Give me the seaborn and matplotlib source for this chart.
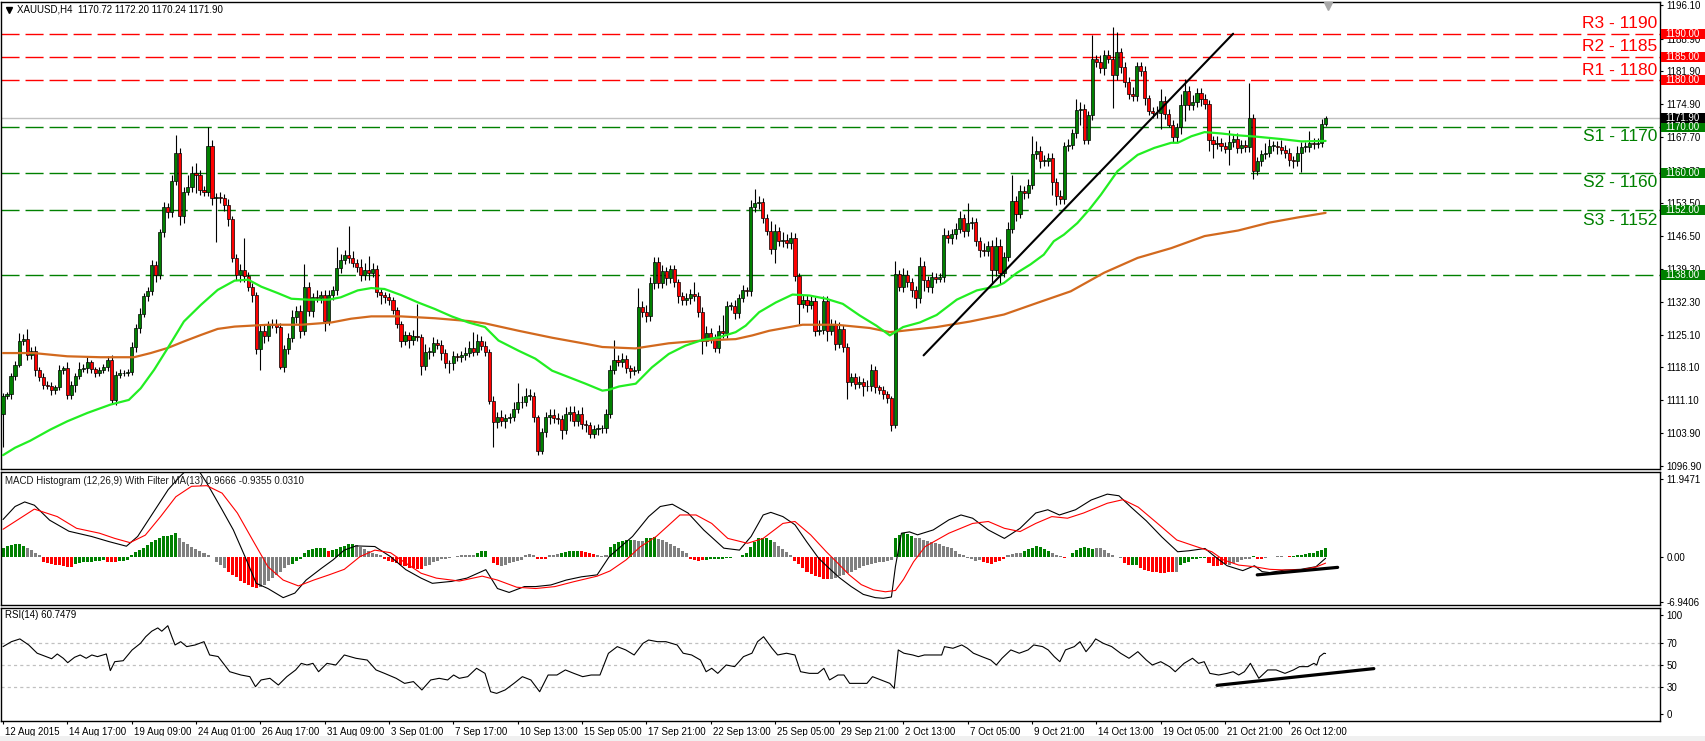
import numpy as np
import matplotlib
matplotlib.use("Agg")
import matplotlib.pyplot as plt
import matplotlib.transforms as mtransforms
from matplotlib.patches import Rectangle
import seaborn as sns

sns.set_style("white")
plt.rcParams["font.family"] = ["Liberation Sans", "DejaVu Sans"]

# ---------------- data ----------------
open_first = 1108.0
close = [
    1112.0, 1112.3, 1116.2, 1118.7, 1123.8, 1124.2, 1120.8, 1121.6, 1117.6, 1116.0,
    1114.4, 1114.1, 1113.3, 1113.8, 1117.6, 1117.9, 1112.2, 1114.4, 1116.3, 1117.7,
    1117.9, 1119.2, 1117.7, 1117.0, 1117.5, 1118.2, 1119.8, 1111.1, 1116.5, 1117.0,
    1116.8, 1117.2, 1122.6, 1126.6, 1129.6, 1133.4, 1134.5, 1140.2, 1138.0, 1147.2,
    1152.6, 1151.6, 1158.3, 1164.4, 1150.8, 1156.0, 1157.0, 1160.0, 1159.6, 1156.4,
    1156.0, 1165.7, 1154.6, 1154.7, 1154.6, 1153.0, 1150.1, 1141.6, 1138.0, 1139.0,
    1137.7, 1135.5, 1133.7, 1122.1, 1126.0, 1124.8, 1127.3, 1127.5, 1126.8, 1118.3,
    1122.0, 1124.4, 1129.0, 1130.3, 1126.0, 1135.5, 1130.2, 1133.2, 1133.0, 1133.7,
    1128.0, 1133.6, 1134.7, 1139.5, 1141.3, 1142.4, 1141.7, 1140.6, 1139.7, 1138.0,
    1139.2, 1138.5, 1139.3, 1134.3, 1133.7, 1133.2, 1132.6, 1130.4, 1127.5, 1123.9,
    1125.0, 1124.0, 1124.8, 1124.6, 1118.5, 1121.5, 1121.5, 1123.4, 1123.0, 1121.2,
    1119.0, 1119.0, 1120.5, 1120.4, 1120.7, 1121.2, 1122.2, 1121.5, 1123.7, 1122.8,
    1121.5, 1110.8, 1106.3, 1107.4, 1106.5, 1107.1, 1107.4, 1109.2, 1110.6, 1110.6,
    1112.0, 1112.0, 1107.4, 1100.2, 1104.1, 1107.4, 1107.9, 1107.3, 1107.0, 1104.7,
    1108.0, 1108.5, 1106.5, 1108.0, 1106.0, 1105.7, 1103.8, 1104.9, 1105.1, 1105.0,
    1108.1, 1117.6, 1119.7, 1119.3, 1120.0, 1118.0, 1117.4, 1117.6, 1131.2, 1130.0,
    1129.2, 1136.3, 1140.9, 1136.2, 1138.8, 1137.3, 1139.3, 1136.5, 1133.4, 1132.6,
    1133.0, 1134.0, 1133.4, 1130.0, 1123.7, 1125.5, 1124.5, 1122.3, 1125.9, 1125.5,
    1131.4, 1131.4, 1129.8, 1133.0, 1134.7, 1134.5, 1152.6, 1153.5, 1153.7, 1150.3,
    1147.6, 1143.6, 1147.4, 1145.3, 1145.6, 1144.9, 1146.0, 1137.7, 1131.8, 1132.6,
    1131.6, 1132.5, 1126.0, 1126.2, 1132.5, 1126.0, 1127.3, 1123.2, 1126.4, 1122.6,
    1115.0, 1116.0, 1114.6, 1115.0, 1114.0, 1114.0, 1117.6, 1113.8, 1113.3, 1112.4,
    1111.5, 1105.8, 1138.2, 1135.5, 1138.0, 1136.5, 1134.7, 1133.0, 1140.0, 1137.0,
    1135.4, 1137.5, 1137.2, 1137.6, 1146.7, 1146.0, 1146.8, 1148.0, 1150.2, 1147.4,
    1149.2, 1149.4, 1145.3, 1143.5, 1143.2, 1144.3, 1139.0, 1144.3, 1138.5, 1142.0,
    1148.0, 1154.0, 1151.2, 1156.2, 1155.6, 1157.5, 1164.0, 1164.8, 1162.6, 1162.6,
    1163.3, 1158.0, 1155.1, 1154.4, 1165.7, 1166.1, 1168.5, 1173.5, 1173.8, 1167.2,
    1172.4, 1184.5, 1183.9, 1182.6, 1185.5, 1184.6, 1181.0, 1186.0, 1182.8, 1179.6,
    1177.0, 1176.6, 1183.0, 1181.9, 1176.1, 1173.4, 1172.9, 1173.0, 1175.6, 1172.6,
    1170.4, 1167.7, 1169.8, 1174.6, 1177.7, 1174.6, 1175.3, 1177.2, 1176.0, 1174.8,
    1167.0, 1166.2, 1166.5, 1165.7, 1165.2, 1166.6, 1167.3, 1165.4, 1166.0, 1165.5,
    1171.8, 1160.5, 1162.5, 1164.0, 1164.4, 1165.8, 1165.9, 1165.6, 1165.0, 1164.3,
    1162.7, 1162.5, 1164.3, 1165.6, 1165.6, 1166.5, 1166.3, 1166.5, 1170.6, 1171.9,
]
wick_up = [
    0.5, 0.6, 0.8, 0.7, 1.7, 1.0, 2.2, 0.9, 1.2, 0.6,
    0.8, 0.7, 0.9, 0.5, 1.0, 0.6, 1.4, 0.8, 0.7, 1.6,
    0.9, 1.3, 0.6, 0.5, 0.8, 0.6, 0.7, 0.9, 0.9, 0.7,
    0.6, 0.5, 1.0, 0.8, 1.2, 0.7, 1.0, 1.1, 0.9, 0.8,
    1.1, 0.9, 1.2, 3.8, 0.9, 1.0, 2.5, 1.4, 2.2, 1.0,
    0.8, 4.1, 1.5, 1.0, 1.2, 0.8, 1.3, 0.6, 0.9, 1.4,
    7.0, 1.0, 0.8, 0.7, 1.2, 1.5, 0.9, 1.1, 1.0, 0.8,
    0.9, 1.2, 1.5, 1.0, 1.2, 4.9, 1.0, 1.0, 1.5, 0.8,
    1.0, 1.2, 1.0, 4.5, 1.3, 1.0, 6.1, 1.4, 0.8, 1.8,
    1.5, 2.9, 1.2, 0.9, 0.8, 0.7, 1.0, 0.6, 0.8, 0.6,
    1.0, 0.8, 1.3, 7.0, 0.8, 1.6, 1.0, 1.3, 0.9, 1.0,
    0.8, 0.7, 1.2, 0.8, 1.0, 1.3, 1.6, 3.5, 1.5, 1.2,
    0.9, 0.6, 1.2, 1.0, 1.5, 1.0, 0.9, 1.4, 4.2, 1.3,
    1.6, 1.4, 0.8, 0.5, 0.9, 1.0, 1.3, 1.2, 1.0, 0.9,
    1.5, 1.3, 1.4, 1.0, 1.6, 0.8, 0.6, 0.9, 0.8, 0.6,
    1.0, 1.0, 4.3, 1.0, 1.2, 0.8, 0.6, 0.9, 4.0, 1.2,
    1.5, 1.3, 1.0, 0.9, 1.3, 1.0, 0.9, 0.8, 0.7, 1.0,
    1.1, 1.0, 2.5, 0.9, 1.2, 1.5, 1.0, 0.8, 1.3, 3.4,
    1.0, 0.9, 1.2, 1.0, 1.1, 0.8, 1.5, 3.1, 1.4, 0.8,
    0.9, 2.0, 1.5, 1.0, 1.6, 1.2, 1.3, 1.0, 0.8, 1.2,
    1.0, 1.2, 0.8, 2.2, 0.9, 1.0, 1.3, 1.0, 1.4, 0.8,
    0.7, 1.0, 0.9, 1.2, 0.8, 1.3, 1.3, 0.8, 0.6, 0.7,
    0.6, 0.5, 2.9, 1.0, 1.5, 1.0, 0.8, 1.0, 2.0, 1.0,
    0.8, 1.2, 1.0, 0.9, 1.5, 1.0, 1.1, 1.3, 1.5, 1.0,
    4.3, 1.2, 1.0, 0.8, 1.5, 1.0, 1.2, 1.8, 1.4, 1.0,
    1.5, 5.5, 1.0, 1.2, 1.0, 1.3, 3.9, 2.0, 1.0, 1.2,
    1.0, 1.0, 1.0, 1.3, 1.0, 1.2, 1.0, 2.5, 1.5, 1.0,
    1.0, 5.3, 1.0, 1.5, 1.0, 1.0, 6.8, 4.3, 1.0, 1.2,
    1.0, 1.5, 1.0, 1.0, 1.2, 0.8, 0.9, 1.5, 2.4, 1.0,
    1.2, 1.0, 1.0, 2.5, 2.5, 1.0, 1.5, 1.2, 1.0, 1.0,
    1.0, 1.0, 1.5, 1.0, 1.0, 2.6, 1.0, 1.2, 1.0, 1.0,
    7.6, 1.0, 1.0, 1.0, 2.0, 1.5, 1.0, 1.0, 1.5, 1.0,
    1.0, 1.0, 1.5, 1.0, 1.0, 2.5, 1.0, 1.0, 1.0, 0.3,
]
wick_dn = [
    7.0, 0.8, 1.0, 0.7, 0.6, 0.8, 1.0, 0.9, 1.3, 0.8,
    1.0, 0.7, 1.2, 0.9, 0.6, 1.0, 1.0, 0.8, 1.5, 0.7,
    0.6, 0.9, 0.8, 1.0, 0.7, 0.6, 0.9, 0.8, 1.0, 0.7,
    0.6, 0.5, 0.8, 1.2, 1.0, 0.7, 1.0, 0.9, 1.5, 0.8,
    0.9, 1.4, 1.0, 0.8, 2.0, 1.5, 0.8, 1.0, 4.0, 1.2,
    1.0, 0.9, 1.5, 9.5, 1.0, 1.2, 1.5, 0.8, 1.0, 1.6,
    1.2, 1.0, 1.4, 1.0, 4.5, 1.5, 1.0, 0.8, 1.2, 0.5,
    1.2, 1.0, 0.8, 1.3, 1.5, 1.0, 1.0, 1.2, 0.9, 1.0,
    2.0, 0.8, 1.0, 0.9, 1.1, 1.0, 1.2, 0.9, 1.0, 1.3,
    1.0, 1.5, 0.9, 1.0, 2.0, 1.2, 1.0, 0.8, 1.0, 1.5,
    1.0, 1.8, 1.0, 0.8, 2.1, 1.0, 1.5, 1.0, 0.9, 1.4,
    1.0, 2.0, 1.5, 1.0, 1.2, 1.0, 0.9, 1.0, 0.8, 1.0,
    1.0, 0.5, 5.3, 1.2, 1.0, 1.5, 1.0, 0.8, 1.0, 1.2,
    0.8, 1.0, 1.0, 1.0, 0.8, 1.0, 1.5, 1.2, 1.0, 2.0,
    1.0, 1.5, 1.0, 1.0, 1.2, 1.5, 0.9, 1.0, 1.3, 1.0,
    1.0, 0.8, 1.0, 0.9, 1.2, 1.0, 1.5, 1.0, 0.8, 1.0,
    1.3, 1.0, 1.2, 1.0, 0.9, 1.5, 1.0, 1.0, 1.5, 1.0,
    1.0, 1.2, 1.0, 1.0, 2.7, 1.0, 1.2, 0.9, 1.0, 1.0,
    1.1, 1.0, 1.3, 1.0, 0.8, 1.0, 1.0, 1.0, 1.2, 1.0,
    1.0, 1.0, 3.1, 1.0, 1.2, 1.0, 1.2, 1.0, 4.3, 1.0,
    1.5, 1.0, 1.2, 1.0, 1.0, 2.1, 1.0, 1.3, 1.0, 1.2,
    3.7, 1.0, 1.2, 1.0, 2.0, 1.0, 1.0, 1.2, 1.0, 1.0,
    1.0, 1.3, 0.8, 1.0, 1.2, 1.0, 1.5, 2.0, 1.0, 2.5,
    1.0, 1.2, 1.0, 0.8, 1.0, 1.0, 1.3, 1.0, 1.0, 1.2,
    1.0, 1.2, 1.0, 1.5, 1.0, 1.0, 3.0, 1.2, 2.5, 1.0,
    1.0, 1.0, 1.5, 1.0, 1.2, 1.0, 1.0, 1.0, 1.5, 1.0,
    1.0, 2.8, 1.9, 1.0, 1.0, 1.0, 1.0, 1.0, 3.2, 1.0,
    1.0, 1.0, 1.0, 1.0, 1.5, 1.0, 7.0, 1.0, 1.2, 1.0,
    1.0, 1.0, 1.0, 1.0, 1.5, 1.0, 1.0, 1.0, 3.6, 1.0,
    0.5, 1.0, 1.0, 1.5, 3.5, 1.0, 1.0, 1.0, 1.5, 1.0,
    2.2, 3.0, 1.0, 1.0, 1.0, 3.5, 1.0, 1.0, 1.0, 1.0,
    1.0, 1.8, 1.0, 1.0, 1.0, 1.0, 1.0, 1.5, 1.0, 1.0,
    1.2, 1.5, 1.0, 4.0, 1.0, 1.0, 1.2, 1.0, 1.0, 0.4,
]

ma_fast_idx = [0, 3, 6.75, 11.75, 16, 21, 26.75, 31.3, 34.25, 37.6, 41, 45, 49.25, 53.4,
               57.6, 61, 64.25, 68.4, 71.75, 76, 81, 84, 88.25, 91.6, 94.9, 99, 103.25,
               107.4, 111.6, 115.75, 119.9, 123.25, 128.25, 132.4, 136.6, 140.75, 144.9,
               149.1, 150.75, 153.25, 157.4, 161.4, 165.6, 169.75, 173.9, 178.1, 182.25,
               184.75, 188.1, 192.25, 196.4, 200.6, 204.75, 208.9, 213.1, 217.25, 220.6,
               223.9, 228.1, 232.25, 237.25, 242.25, 247.25, 249, 252.25, 255.6, 258.9,
               261.4, 263.9, 267.25, 270.2, 273.1, 277.25, 282.25, 286.4, 290.6, 292.25,
               295.6, 298.9, 303.1, 307.25, 312, 318, 323, 329]
ma_fast = [1099.2, 1100.8, 1102.3, 1104.7, 1106.5, 1108.3, 1110.1, 1111.1, 1113.6, 1117.6,
           1122.3, 1128.0, 1131.6, 1134.8, 1136.8, 1137.0, 1135.5, 1134.1, 1132.9, 1132.7,
           1132.7, 1133.2, 1134.7, 1135.2, 1135.0, 1133.7, 1132.1, 1130.7, 1129.1, 1127.8,
           1126.8, 1123.9, 1121.7, 1120.0, 1117.4, 1116.0, 1114.6, 1113.1, 1113.3, 1114.0,
           1114.6, 1118.1, 1121.0, 1122.8, 1124.0, 1124.6, 1125.7, 1127.1, 1130.0, 1132.1,
           1133.8, 1133.6, 1132.9, 1131.8, 1129.3, 1127.1, 1125.0, 1126.8, 1127.8, 1129.4,
           1132.7, 1134.7, 1135.6, 1136.3, 1138.5, 1140.3, 1142.4, 1145.3, 1146.7, 1149.2,
           1152.1, 1155.3, 1160.4, 1163.9, 1165.4, 1166.5, 1166.5, 1167.9, 1168.8, 1168.5,
           1168.1, 1167.8, 1167.3, 1166.8, 1166.9]
ma_slow_idx = [0, 7.6, 16, 24.25, 32.6, 36.75, 41, 45, 49.25, 53.4, 57.6, 65.9, 74.25,
               81.75, 86.6, 91.6, 99, 107.4, 115.75, 119.9, 128.25, 136.6, 144.9, 149.1,
               157.3, 165.6, 173.9, 182.25, 186.4, 190.6, 198.9, 207.25, 215.6, 220.6,
               223.9, 232.25, 240.6, 249, 257.25, 265.6, 273.9, 282.25, 290.6, 298.9,
               307.25, 315, 322, 329]
ma_slow = [1121.2, 1121.2, 1120.5, 1120.3, 1120.3, 1121.2, 1122.3, 1123.7, 1125.1, 1126.4,
           1126.9, 1127.3, 1127.3, 1127.8, 1128.6, 1129.1, 1129.1, 1128.7, 1128.1, 1127.6,
           1126.0, 1124.5, 1123.2, 1122.5, 1122.2, 1123.3, 1123.9, 1124.2, 1125.0, 1126.0,
           1127.3, 1127.3, 1126.6, 1125.7, 1126.0, 1126.8, 1128.0, 1129.5, 1132.0, 1134.5,
           1138.5, 1141.7, 1143.8, 1146.4, 1147.6, 1149.3, 1150.4, 1151.4]

trend_idx = [229, 306]
trend_price = [1120.7, 1190.0]

res_levels = [1190, 1185, 1180]
res_names = ["R3 - 1190", "R2 - 1185", "R1 - 1180"]
sup_levels = [1170, 1160, 1152, 1138]
sup_names = ["S1 - 1170", "S2 - 1160", "S3 - 1152"]
last_price = 1171.90
price_ticks = [1196.10, 1188.90, 1181.90, 1174.90, 1167.70, 1160.50, 1153.50, 1146.50,
               1139.30, 1132.30, 1125.10, 1118.10, 1111.10, 1103.90, 1096.90]
price_title = "XAUUSD,H4  1170.72 1172.20 1170.24 1171.90"

macd_idx = [0, 3, 5.4, 7.8, 11.6, 16.4, 22, 26.4, 30.7, 33.5, 37.3, 41.1, 44, 46, 48.5,
            50.7, 54.5, 57.3, 60.2, 63, 65.9, 69.7, 72.6, 75.4, 79.2, 82.1, 84.9, 87.8,
            92.5, 96.4, 100.2, 104, 106.8, 111.6, 115.4, 120.1, 123, 125.9, 129.7, 132.5,
            136.3, 140.1, 143.9, 147.8, 150.8, 156.6, 160.6, 163.5, 166.5, 170.4, 174.3,
            179.3, 183.2, 186.1, 189.1, 191, 194, 197, 199.9, 202.9, 205, 208, 211, 214,
            217, 219, 221, 222, 223.5, 225.5, 227.5, 231.4, 235.3, 238.3, 241.2, 245.1,
            249.1, 253, 256.9, 259.9, 262.8, 266.8, 270.7, 274.7, 277.6, 280.6, 284.4,
            288.3, 292.2, 295, 299, 301.7, 304.5, 308.4, 311.3, 313.2, 315.1, 318.9,
            322.8, 326.6, 329]
macd_line = [5.7, 7.7, 8.4, 7.9, 5.6, 3.9, 3.1, 2.3, 1.6, 3.1, 6.7, 10.3, 12.3, 13.5, 13.4,
             11.3, 7.2, 4.1, 0.0, -4.1, -4.9, -6.3, -5.6, -3.6, -1.8, -0.5, 1.0, 1.65,
             1.55, 0.0, -2.0, -3.3, -4.1, -3.8, -3.3, -2.0, -4.9, -5.5, -4.6, -4.6,
             -4.35, -3.6, -3.1, -2.8, 0.0, 3.1, 6.15, 7.7, 8.05, 6.7, 4.1,
             1.3, 1.0, 3.1, 6.4, 6.8, 6.15, 4.9, 2.3, -0.25, -1.5, -3.2, -4.6, -5.8,
             -6.3, -6.4, -6.2, -1.5, 3.6, 3.8, 3.35, 4.1, 5.65, 6.4, 5.9, 4.1,
             2.8, 4.35, 6.7, 7.2, 6.4, 7.2, 8.7, 9.6, 9.35, 7.6, 5.5,
             3.0, 0.75, 0.9, 1.25, -0.1, -1.4, -2.15, -1.4, -2.3, -2.45, -2.05,
             -1.95, -1.55, -0.25]
signal_idx = [0, 7.8, 13.5, 18.3, 24, 27.8, 31.6, 35.4, 39.2, 43, 46.9, 50.7, 54.5, 58.3,
              62.1, 65.9, 69.7, 73.5, 77.3, 81.1, 84.9, 88.8, 92.5, 96.4, 100.2, 104,
              107.8, 113.5, 119.2, 123, 127.8, 132.5, 137.3, 142, 147.8, 151, 155, 158.5,
              162.5, 168.4, 172.4, 176.3, 180.3, 185.2, 189.1, 194, 197, 200.9, 204.8,
              207.5, 210.5, 213.5, 216.5, 219.5, 222, 224, 226.5, 229.4, 235.3, 241.2,
              245.1, 249.1, 253, 256.9, 260.9, 264.8, 268.8, 274.7, 278.6, 282.4, 287.2,
              292, 296.8, 300.7, 303.6, 307.4, 311.3, 315.1, 318.9, 322.8, 326.6, 329]
signal_line = [4.2, 7.3, 6.15, 4.35, 3.6, 2.8, 2.15, 3.3, 6.15, 9.2, 10.8, 10.9, 9.75, 6.7,
               2.55, -1.55, -3.6, -4.5, -3.6, -2.8, -1.95, 0.0, 1.0, 0.6, -1.0, -2.55,
               -3.3, -3.75, -3.0, -3.6, -4.7, -4.9, -4.6, -3.85, -3.0, -2.2, -0.5, 1.5,
               3.1, 6.4, 6.4, 5.1, 2.8, 2.05, 2.8, 5.1, 5.4, 3.35, 0.75,
               -0.9, -2.8, -4.3, -5.1, -5.4, -5.2, -3.5, -0.8, 1.55, 3.6, 5.1,
               5.4, 4.35, 3.85, 5.1, 6.15, 5.9, 6.7, 8.2, 8.75, 7.6, 5.1,
               2.55, 1.55, 0.75, -0.5, -1.3, -1.55, -1.95, -2.05, -2.05, -1.6, -1.0]
macd_hist = [
    1.4, 1.6, 1.8, 2.0, 2.0, 1.6,
    1.4, 1.0, 0.6, 0.2,
    -0.8, -1.0, -1.2, -1.3, -1.3, -1.45, -1.55, -1.55,
    -1.1, -1.0, -0.9, -0.8, -0.8, -0.7, -0.6, -0.5,
    -0.9, -0.9, -0.8,
    -0.7, -0.6, -0.5,
    0.3, 0.7, 1.0, 1.4, 1.8, 2.3, 2.5, 2.8, 3.1, 3.1, 3.3, 3.7,
    2.8, 2.3, 1.9, 1.5, 1.2, 0.9, 0.5, 0.2, -0.1, -0.8, -1.3, -1.8,
    -2.3, -2.8, -3.2, -3.7, -4.1, -4.4, -4.6, -4.8,
    -4.6, -4.4, -3.8, -3.3, -2.8, -2.3, -1.8, -1.3,
    -1.1, -0.6, -0.3, 0.6, 1.0, 1.2, 1.3, 1.3, 1.3,
    0.9,
    1.0, 1.2, 1.5, 1.7, 1.9, 2.0,
    1.8, 1.5, 1.1, 0.8, 0.6, 0.4, 0.2,
    -0.4, -0.6, -0.8, -1.0, -1.3, -1.5, -1.7, -1.8, -1.9, -1.9,
    -1.5, -1.3, -0.9, -0.6, -0.4, -0.3, -0.2, -0.1, 0.1, 0.2, 0.2, 0.3, 0.3,
    0.5, 0.8, 0.8,
    -0.1, -1.0, -1.3,
    -1.4, -1.3, -1.0, -0.8, -0.6, -0.5, 0.2, 0.4, 0.3,
    -0.3, -0.4, -0.3,
    0.2, 0.3, 0.4,
    0.6, 0.7, 0.8, 0.9, 0.9,
    0.8, 0.7, 0.6, 0.4,
    0.2, 0.1, 0.3,
    1.5, 1.9, 2.2, 2.4, 2.5, 2.6,
    2.5, 2.4, 2.4,
    2.8, 2.9, 3.0,
    2.7, 2.5, 2.2, 1.9, 1.6, 1.3, 0.9, 0.6,
    -0.3, -0.5, -0.6, -0.5,
    -0.5, -0.4, -0.4, -0.3, -0.3, -0.2, -0.2, -0.1, -0.1, 0.2, 0.5,
    1.5, 2.3, 2.8, 2.9, 2.8, 2.6,
    2.2, 1.6, 1.1, 0.7, 0.3,
    -0.6, -1.2, -1.8, -2.3, -2.7, -3.0, -3.2, -3.4, -3.5,
    -3.4, -3.3, -3.0, -2.8, -2.5, -2.3, -2.0, -1.8, -1.5, -1.3, -1.2, -1.0, -0.9, -0.8, -0.6, -0.5,
    2.8, 3.3, 3.6, 3.5, 3.2,
    2.9, 2.8, 2.6, 2.4, 2.3, 2.1, 1.9, 1.7, 1.5, 1.3, 0.8, 0.4, 0.2, -0.2, -0.4, -0.6, -0.5,
    -0.8, -1.0, -1.1, -0.9, -0.6, -0.3,
    0.2, 0.4, 0.5, 0.6,
    0.9, 1.2, 1.4, 1.6, 1.5, 1.2, 0.9,
    0.6, 0.3, 0.1,
    -0.2, -0.1,
    0.6, 1.0, 1.3, 1.5, 1.4, 1.2,
    1.4, 1.3, 1.0, 0.6, 0.3, -0.1, -0.2,
    -1.0, -1.3,
    -1.3, -1.3,
    -1.8, -2.0, -2.2, -2.3, -2.4, -2.5, -2.5, -2.4, -2.3,
    -2.3,
    -1.3, -1.0, -0.8, -0.3, -0.3, -0.2, -0.2,
    -1.0, -1.5, -1.5, -1.3, -1.2,
    -1.3, -1.0, -0.8, -0.5, -0.4, -0.3,
    0.1,
    -0.4, -0.4,
    -0.2, -0.1, -0.1, 0.1, 0.1,
    -0.1, 0.1,
    0.1, 0.2, 0.3, 0.4, 0.5, 0.6, 0.8, 1.0, 1.3,
]
hist_colors = ("gggggg" "kkkk" "rrrrrrrr" "gggggggg" "rrr" "ggg" "gggggggggggg"
               "kkkkkkkkkkkk" "rrrrrrrr" "kkkkkkkk" "ggggggggg" "r" "gggggg" "kkkkkkk"
               "rrrrrrrrrr" "kkkkkkkkkkkkk" "ggg" "rrr" "kkkkkkkkk" "rrr" "kkk" "ggggg"
               "rrrr" "kkk" "gggggg" "kkk" "ggg" "kkkkkkkk" "rrrr" "ggggggggggg" "gggggg"
               "kkkkk" "rrrrrrrrr" "kkkkkkkkkkkkkkkk" "ggggg" "kkkkkkkkkkkkkkkkk" "rrrrrr"
               "kkkk" "ggggggg" "kkk" "rr" "gggggg" "kkkkkkk" "rr" "gg" "rrrrrrrrr" "k"
               "ggggggg" "rrrrr" "kkkkkk" "g" "rr" "kkkkk" "rr" "ggggggggg")
macd_trend_idx = [312, 332]
macd_trend = [-2.8, -1.65]
macd_ticks = [11.9471, 0.0, -6.9406]
macd_tick_labels = ["11.9471", "0.00", "-6.9406"]
macd_title = "MACD Histogram (12,26,9) With Filter MA(13) 0.9666 -0.9355 0.0310"

rsi_idx = [0, 2.1, 4.2, 6.4, 8.5, 10.7, 12.1, 13.5, 15, 16.1,
           17.8, 19.2, 20.7, 22.1, 23.5, 25.7, 26.7, 27.8, 29.9, 32.1,
           34.2, 35.5, 37, 38.5, 39.5, 41, 42, 42.8, 44.2, 45.7,
           47.8, 50, 51.4, 53.5, 56.4, 59.2, 61.4, 62.8, 64.2, 66.4,
           68.5, 70.6, 72.8, 74.2, 75.6, 77.1, 78.5, 80.6, 82.8, 84.9,
           87.8, 90.6, 92.8, 94.9, 97.8, 99.9, 102.1, 104.2, 106.4, 108.5,
           110.6, 112.1, 113.5, 115.6, 117.8, 119.9, 121.3, 122.8, 124.9, 127.1,
           129.2, 131.3, 133.5, 135.6, 137.8, 139.9, 142, 144.2, 146.3, 148.5,
           150.6, 152.8, 154.9, 157, 159.2, 160.6, 162.8, 164.9, 167.7, 169.2,
           171.3, 173.5, 174.9, 176.3, 177.8, 179.9, 182, 184.2, 186.3, 187.7,
           189.2, 191.3, 192.7, 194.9, 197, 198.4, 200.6, 202.7, 204.2, 205.6,
           207.7, 209.2, 210.6, 212.7, 214.9, 216.3, 218.4, 220.6, 221.7, 222.7,
           224.1, 226.3, 227.7, 229.2, 231.3, 233.5, 234.2, 236.3, 238.5, 239.9,
           241.4, 243.5, 245.7, 247.1, 248.5, 250.7, 252.8, 255, 256.4, 258.6,
           260, 261.5, 262.9, 264.3, 266.5, 267.9, 269.4, 270.8, 271.8, 273.7,
           275.8, 278, 280.1, 282.3, 284.4, 285.9, 288, 290.2, 291.6, 293.8,
           295.9, 297.4, 298.8, 300.2, 302.4, 304.5, 306, 307.4, 308.8, 310.3,
           311.7, 312.4, 314.6, 316.7, 318.9, 321, 322.5, 324.6, 326.1, 326.8,
           327.5, 328.6, 329]
rsi_val = [67, 71.5, 74, 68.5, 61, 58, 56, 60.3, 56.4, 52.4,
           57.3, 59.4, 56.4, 59.4, 57.9, 60.3, 45.2, 53.3, 54.2, 63.9,
           70, 76, 81, 84, 81, 86, 76, 68.5, 71.5, 67,
           68.5, 71.5, 59.4, 58, 44.2, 41.2, 39.7, 30.6, 36.7, 38.2,
           32.1, 39.7, 45.8, 51.8, 50.3, 51.8, 44.2, 51.8, 50.3, 59.4,
           56.4, 54.8, 45.8, 42.7, 38.2, 33.6, 35.2, 27.6, 36.7, 38.2,
           36.7, 41.2, 38.2, 39.7, 47.3, 42.7, 26, 24.5, 27.6, 33.6,
           39.7, 36.7, 26, 41.2, 41.2, 45.8, 42.7, 39.7, 41.2, 41.2,
           60.9, 67, 64, 59.4, 70, 73, 71.5, 71.5, 68.5, 61,
           59.4, 54.8, 44.2, 47.3, 42.7, 50.3, 48.8, 57.9, 61, 71.5,
           76, 65.5, 59.4, 61, 59.4, 44.2, 42.7, 42.7, 47.3, 36.7,
           41.2, 41.2, 33.6, 33.6, 33.6, 39.7, 36.7, 33.6, 29, 64,
           61, 59.4, 57.9, 59.4, 59.4, 59.4, 67, 65.5, 68.5, 65.5,
           61, 57.9, 54.8, 50.3, 56.4, 64, 61, 64, 68.5, 67,
           64, 57.9, 53.3, 64, 67, 71.5, 62.4, 68.5, 74, 70,
           67, 61, 56.4, 62.4, 54.8, 50.3, 53.3, 48.8, 44.2, 51.8,
           56.4, 51.8, 53.3, 42.7, 41.2, 42.7, 44.2, 41.2, 44.2, 51.8,
           42.7, 38.2, 45.8, 45.8, 42.7, 45.8, 48.8, 48.8, 51.8, 50.3,
           57.9, 61, 60.7]
rsi_levels = [70, 50, 30]
rsi_trend_idx = [302, 341]
rsi_trend = [31.8, 47.0]
rsi_ticks = [95.7, 70, 50, 30, 5.7]
rsi_tick_labels = ["100", "70", "50", "30", "0"]
rsi_title = "RSI(14) 60.7479"

date_idx = [0, 16, 32, 48, 64, 80, 96, 112, 128, 144, 160, 176, 192, 208, 224, 240,
            256, 272, 288, 304, 320]
date_labels = ["12 Aug 2015", "14 Aug 17:00", "19 Aug 09:00", "24 Aug 01:00", "26 Aug 17:00",
               "31 Aug 09:00", "3 Sep 01:00", "7 Sep 17:00", "10 Sep 13:00", "15 Sep 05:00",
               "17 Sep 21:00", "22 Sep 13:00", "25 Sep 05:00", "29 Sep 21:00", "2 Oct 13:00",
               "7 Oct 05:00", "9 Oct 21:00", "14 Oct 13:00", "19 Oct 05:00", "21 Oct 21:00",
               "26 Oct 12:00"]

assert len(close) == len(wick_up) == len(wick_dn) == 330
assert len(macd_hist) == len(hist_colors) == 330
assert len(macd_idx) == len(macd_line) and len(signal_idx) == len(signal_line)
assert len(rsi_idx) == len(rsi_val) and len(ma_fast_idx) == len(ma_fast)
assert len(ma_slow_idx) == len(ma_slow)

# ---------------- layout ----------------
W, H = 1705, 741
fig = plt.figure(figsize=(W / 100, H / 100), dpi=100)
fig.patch.set_facecolor("white")

def add_ax(x0, y0, x1, y1):
    return fig.add_axes([x0 / W, 1 - y1 / H, (x1 - x0) / W, (y1 - y0) / H])

AX_L, AX_R = 1, 1660
ax_p = add_ax(AX_L, 2, AX_R, 469)
ax_m = add_ax(AX_L, 472, AX_R, 605)
ax_r = add_ax(AX_L, 608, AX_R, 721)

BAR_PX, X0_PX = 4.02, 3
xlim = ((AX_L - X0_PX) / BAR_PX, (AX_R - X0_PX) / BAR_PX)
AXW = AX_R - AX_L

GREEN_LVL = "#008000"
RED_LVL = "#ff0000"
FS = 7

for ax in (ax_p, ax_m, ax_r):
    ax.set_facecolor("white")
    for s in ax.spines.values():
        s.set_color("black")
        s.set_linewidth(1.0)
    ax.set_xlim(*xlim)

# ---------------- price panel ----------------
c = np.array(close)
o = np.r_[open_first, c[:-1]]
hi = np.maximum(o, c) + np.array(wick_up)
lo = np.minimum(o, c) - np.array(wick_dn)
x = np.arange(len(c))
up = c >= o

ax_p.axhline(last_price, color="#c0c0c0", lw=1.0, zorder=1)
for v in res_levels:
    ax_p.axhline(v, color=RED_LVL, lw=1.0, dashes=(13, 4.3), zorder=2)
for v in sup_levels:
    ax_p.axhline(v, color=GREEN_LVL, lw=1.0, dashes=(13, 4.3), zorder=2)

ax_p.vlines(x, lo, hi, color="black", lw=0.8, zorder=3)
ax_p.bar(x, np.maximum(np.abs(c - o), 0.12), bottom=np.minimum(o, c), width=0.78,
         color=np.where(up, "#008000", "#ff0000"), edgecolor="black", linewidth=0.5, zorder=4)

sns.lineplot(x=ma_slow_idx, y=ma_slow, ax=ax_p, color="#d2691e", lw=1.6, estimator=None,
             sort=False, zorder=5)
sns.lineplot(x=ma_fast_idx, y=ma_fast, ax=ax_p, color="#22ee22", lw=1.6, estimator=None,
             sort=False, zorder=5)
sns.lineplot(x=trend_idx, y=trend_price, ax=ax_p, color="black", lw=1.5, estimator=None,
             sort=False, zorder=6)

ax_p.set_xlim(*xlim)
ax_p.set_ylim(1096.22, 1196.83)
ax_p.set_xlabel("")
ax_p.set_ylabel("")
ax_p.set_xticks([])
ax_p.yaxis.tick_right()
ax_p.set_yticks(price_ticks)
ax_p.set_yticklabels([f"{t:.2f}" for t in price_ticks])
ax_p.tick_params(axis="y", direction="out", length=2.2, width=0.8, pad=2.5, labelsize=FS,
                 right=True, left=False, colors="black")

for v, name in zip(res_levels, res_names):
    ax_p.annotate(name, xy=(1, v), xycoords=("axes fraction", "data"), xytext=(-3, 10),
                  textcoords="offset pixels", ha="right", va="center", color=RED_LVL,
                  fontsize=12.5, zorder=9)
for v, name in zip(sup_levels[:3], sup_names):
    ax_p.annotate(name, xy=(1, v), xycoords=("axes fraction", "data"), xytext=(-3, -10),
                  textcoords="offset pixels", ha="right", va="center", color=GREEN_LVL,
                  fontsize=12.5, zorder=9)

blend_p = mtransforms.blended_transform_factory(ax_p.transAxes, ax_p.transData)
unit_px = 467 / (1196.83 - 1096.22)
box_h = 10 / unit_px
boxes = [(v, RED_LVL) for v in res_levels] + [(v, GREEN_LVL) for v in sup_levels] + \
        [(last_price, "black")]
for v, fc in boxes:
    ax_p.add_patch(Rectangle((1 + 1.5 / AXW, v - box_h / 2), 44 / AXW, box_h,
                             transform=blend_p, fc=fc, ec="none", clip_on=False, zorder=10))
    ax_p.text(1 + 5 / AXW, v, f"{v:.2f}", transform=blend_p, color="white", fontsize=FS,
              va="center", ha="left", zorder=11, clip_on=False)

ax_p.annotate(price_title, xy=(0, 1), xycoords="axes fraction", xytext=(16, -8),
              textcoords="offset pixels", ha="left", va="center", fontsize=FS, color="black")
ax_p.plot([7.5 / AXW], [1 - 8 / 467], marker="v", ms=4, color="black",
          transform=ax_p.transAxes, clip_on=False)
blend_top = mtransforms.blended_transform_factory(ax_p.transData, ax_p.transAxes)
ax_p.plot([329.6], [1 - 3.5 / 467], marker="v", ms=6, color="#a8a8a8", transform=blend_top,
          clip_on=False, zorder=12)

# ---------------- MACD panel ----------------
cmap = {"g": "#008000", "r": "#ff0000", "k": "#808080"}
ax_m.bar(x, macd_hist, width=0.75, color=[cmap[ch] for ch in hist_colors], linewidth=0,
         zorder=2)
sns.lineplot(x=macd_idx, y=macd_line, ax=ax_m, color="black", lw=0.8, estimator=None,
             sort=False, zorder=3)
sns.lineplot(x=signal_idx, y=signal_line, ax=ax_m, color="#ff0000", lw=0.8, estimator=None,
             sort=False, zorder=3)
sns.lineplot(x=macd_trend_idx, y=macd_trend, ax=ax_m, color="black", lw=2.3, estimator=None,
             sort=False, zorder=4)
ax_m.set_xlim(*xlim)
ax_m.set_ylim(-7.43, 13.0)
ax_m.set_xlabel("")
ax_m.set_ylabel("")
ax_m.set_xticks([])
ax_m.yaxis.tick_right()
ax_m.set_yticks(macd_ticks)
ax_m.set_yticklabels(macd_tick_labels)
ax_m.tick_params(axis="y", direction="out", length=2.2, width=0.8, pad=2.5, labelsize=FS,
                 right=True, left=False, colors="black")
ax_m.annotate(macd_title, xy=(0, 1), xycoords="axes fraction", xytext=(4, -9),
              textcoords="offset pixels", ha="left", va="center", fontsize=FS,
              color="#1a1a1a", zorder=8)

# ---------------- RSI panel ----------------
for v in rsi_levels:
    ax_r.axhline(v, color="#c0c0c0", lw=0.9, dashes=(2.5, 2.5), zorder=1)
sns.lineplot(x=rsi_idx, y=rsi_val, ax=ax_r, color="black", lw=0.8, estimator=None,
             sort=False, zorder=3)
sns.lineplot(x=rsi_trend_idx, y=rsi_trend, ax=ax_r, color="black", lw=2.3, estimator=None,
             sort=False, zorder=4)
ax_r.set_xlim(*xlim)
ax_r.set_ylim(-0.6, 102.1)
ax_r.set_xlabel("")
ax_r.set_ylabel("")
ax_r.yaxis.tick_right()
ax_r.set_yticks(rsi_ticks)
ax_r.set_yticklabels(rsi_tick_labels)
ax_r.tick_params(axis="y", direction="out", length=2.2, width=0.8, pad=2.5, labelsize=FS,
                 right=True, left=False, colors="black")
ax_r.set_xticks(date_idx)
ax_r.set_xticklabels(date_labels, ha="left", fontsize=FS)
ax_r.tick_params(axis="x", direction="out", length=2.5, width=0.8, pad=1.5, bottom=True,
                 colors="black")
shift = mtransforms.ScaledTranslation(2 / 100, 0, fig.dpi_scale_trans)
for lbl in ax_r.get_xticklabels():
    lbl.set_transform(lbl.get_transform() + shift)
ax_r.annotate(rsi_title, xy=(0, 1), xycoords="axes fraction", xytext=(4, -7),
              textcoords="offset pixels", ha="left", va="center", fontsize=FS, color="black")

fig.add_artist(Rectangle((0, 0), 1, 5 / H, transform=fig.transFigure, fc="#f0f0f0",
                         ec="none"))

fig.savefig("out.png", dpi=100, facecolor="white")
